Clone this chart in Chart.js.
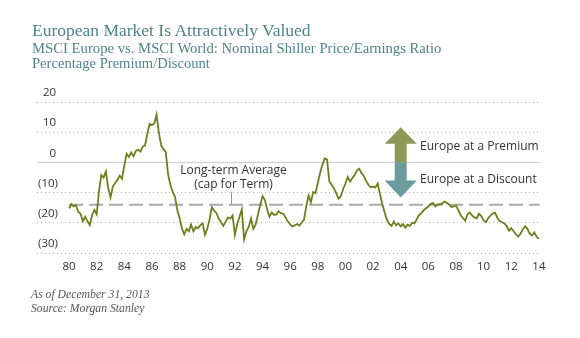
<!DOCTYPE html>
<html>
<head>
<meta charset="utf-8">
<script src="https://cdn.jsdelivr.net/npm/chart.js@4"></script>
<style>
  html, body { margin: 0; padding: 0; background: #fff; }
  #wrap { position: relative; width: 580px; height: 338px; overflow: hidden; }
  #chart { position: absolute; left: 0; top: 0; }
  .hd { position: absolute; left: 32px; white-space: nowrap; font-family: "Liberation Serif", serif; color: #4f8584; line-height: 1; }
  .ft { position: absolute; left: 31px; white-space: nowrap; font-family: "Liberation Serif", serif; font-style: italic; font-size: 11.7px; color: #555; line-height: 1; }
</style>
</head>
<body>
<div id="wrap">
  <canvas id="chart" width="580" height="338"></canvas>
  <div class="hd" style="top:22px;font-size:17.5px">European Market Is Attractively Valued</div>
  <div class="hd" style="top:41px;font-size:14.7px">MSCI Europe vs. MSCI World: Nominal Shiller Price/Earnings Ratio</div>
  <div class="hd" style="top:55.5px;font-size:14.6px">Percentage Premium/Discount</div>
  <div class="ft" style="top:289px">As of December 31, 2013</div>
  <div class="ft" style="top:303px">Source: Morgan Stanley</div>
</div>
<script>
// bi-monthly readings, Europe premium/discount vs world (%)
const startYear = 1980;
const stepYears = 1 / 6;
const premium = [
  -15.2, -13.8, -14.6, -14.2, -16.4, -17.0,   // 1980
  -19.5, -18.0, -19.5, -20.8, -17.5, -15.8,   // 1981
  -17.2, -9.5, -4.2, -5.0, -3.0, -8.5,        // 1982
  -11.6, -8.0, -6.8, -5.8, -4.4, -5.4,        // 1983
  -1.0, 2.9, 1.8, 3.3, 2.0, 3.8,              // 1984
  4.2, 3.6, 5.2, 5.6, 9.5, 12.8,              // 1985
  12.4, 12.8, 15.8, 9.8, 5.6, 4.4,            // 1986
  3.4, -4.0, -7.5, -9.8, -11.4, -15.8,        // 1987
  -18.5, -21.8, -23.8, -22.0, -22.8, -20.6,   // 1988
  -22.8, -21.4, -21.8, -20.8, -20.2, -24.0,   // 1989
  -22.0, -19.0, -14.9, -16.0, -16.8, -18.6,   // 1990
  -19.8, -21.0, -19.6, -18.2, -18.6, -17.6,   // 1991
  -24.0, -20.5, -18.0, -15.6, -25.5, -22.8,   // 1992
  -21.4, -18.6, -22.0, -20.5, -17.4, -14.0,   // 1993
  -11.2, -12.4, -15.5, -18.0, -16.6, -17.4,   // 1994
  -17.2, -16.2, -16.8, -17.0, -18.2, -19.6,   // 1995
  -20.5, -21.2, -20.8, -20.4, -20.9, -19.9,   // 1996
  -19.0, -14.5, -11.0, -13.2, -9.8, -10.2,    // 1997
  -6.8, -3.5, -0.8, 1.3, 1.0, -6.2,           // 1998
  -7.4, -8.6, -10.2, -12.0, -11.2, -8.8,      // 1999
  -7.0, -4.8, -6.4, -5.2, -4.2, -2.6,         // 2000
  -2.1, -3.6, -4.5, -6.2, -7.5, -8.2,         // 2001
  -8.0, -8.3, -7.0, -10.5, -13.8, -16.5,      // 2002
  -19.0, -20.4, -21.0, -19.6, -20.8, -20.2,   // 2003
  -21.2, -20.4, -21.6, -20.6, -21.0, -20.0,   // 2004
  -20.2, -18.8, -17.4, -16.8, -15.8, -15.2,   // 2005
  -14.6, -13.8, -13.4, -14.6, -14.0, -13.8,   // 2006
  -13.6, -13.0, -13.4, -13.9, -14.8, -14.6,   // 2007
  -14.3, -15.8, -17.4, -18.4, -19.3, -17.2,   // 2008
  -16.6, -17.6, -18.2, -18.5, -17.0, -17.8,   // 2009
  -19.2, -19.8, -18.4, -17.6, -16.9, -16.7,   // 2010
  -18.4, -19.5, -19.8, -20.2, -21.0, -22.6,   // 2011
  -21.8, -22.8, -23.8, -24.6, -23.6, -22.2,   // 2012
  -21.1, -22.0, -23.6, -24.2, -23.2, -24.6,   // 2013
  -25.3
];
const longTermAvg = -14;
const xTicks = [1980, 1982, 1984, 1986, 1988, 1990, 1992, 1994, 1996, 1998, 2000, 2002, 2004, 2006, 2008, 2010, 2012, 2014];
const yTicks = [20, 10, 0, -10, -20, -30];
const avgLabel = ['Long-term Average', '(cap for Term)'];
const arrowLabels = ['Europe at a Premium', 'Europe at a Discount'];

const lineData = premium.map((v, i) => ({ x: startYear + i * stepYears, y: v }));
const xMin = 1977.68, xMax = 2014.08;

const labelFont = '12px "Open Sans", sans-serif';

const annotations = {
  id: 'annotations',
  afterDatasetsDraw(chart) {
    const { ctx } = chart;
    const xs = chart.scales.x, ys = chart.scales.y;
    ctx.save();

    // premium / discount arrows
    const cx = xs.getPixelForValue(2004.0);
    const y0 = ys.getPixelForValue(0);
    const tipUp = ys.getPixelForValue(11.6), baseUp = ys.getPixelForValue(6.2);
    const tipDn = ys.getPixelForValue(-11.6), baseDn = ys.getPixelForValue(-6.0);
    const hw = 16, sw = 6;
    ctx.fillStyle = '#8c9a58';
    ctx.beginPath();
    ctx.moveTo(cx, tipUp);
    ctx.lineTo(cx + hw, baseUp);
    ctx.lineTo(cx + sw, baseUp);
    ctx.lineTo(cx + sw, y0);
    ctx.lineTo(cx - sw, y0);
    ctx.lineTo(cx - sw, baseUp);
    ctx.lineTo(cx - hw, baseUp);
    ctx.closePath();
    ctx.fill();
    ctx.fillStyle = '#6b9b9c';
    ctx.beginPath();
    ctx.moveTo(cx, tipDn);
    ctx.lineTo(cx + hw, baseDn);
    ctx.lineTo(cx + sw, baseDn);
    ctx.lineTo(cx + sw, y0);
    ctx.lineTo(cx - sw, y0);
    ctx.lineTo(cx - sw, baseDn);
    ctx.lineTo(cx - hw, baseDn);
    ctx.closePath();
    ctx.fill();

    ctx.font = labelFont;
    ctx.fillStyle = '#333';
    ctx.textBaseline = 'middle';
    ctx.textAlign = 'left';
    const tx = xs.getPixelForValue(2005.4);
    ctx.fillText(arrowLabels[0], tx, ys.getPixelForValue(5.4));
    ctx.fillText(arrowLabels[1], tx, ys.getPixelForValue(-5.6));

    // long-term average label
    ctx.textAlign = 'center';
    const lx = xs.getPixelForValue(1991.9);
    ctx.fillText(avgLabel[0], lx, ys.getPixelForValue(-2.6));
    ctx.fillText(avgLabel[1], lx, ys.getPixelForValue(-7.3));
    const kx = Math.round(xs.getPixelForValue(1991.7)) + 0.5;
    ctx.strokeStyle = '#999';
    ctx.lineWidth = 1;
    ctx.beginPath();
    ctx.moveTo(kx, ys.getPixelForValue(-9.7));
    ctx.lineTo(kx, ys.getPixelForValue(longTermAvg));
    ctx.stroke();
    ctx.restore();
  }
};

new Chart(document.getElementById('chart'), {
  type: 'line',
  data: {
    datasets: [
      {
        data: lineData,
        borderColor: '#6e7f1e',
        borderWidth: 1.8,
        pointRadius: 0,
        tension: 0
      },
      {
        data: [{ x: 1980, y: longTermAvg }, { x: 2014.05, y: longTermAvg }],
        borderColor: '#a9a9a9',
        borderWidth: 2,
        borderDash: [14, 6],
        pointRadius: 0
      },
      {
        data: [{ x: xMin, y: 0 }, { x: xMax, y: 0 }],
        borderColor: '#c9c9c9',
        borderWidth: 1,
        pointRadius: 0
      }
    ]
  },
  options: {
    responsive: false,
    animation: false,
    layout: { padding: { left: 37, right: 40, top: 102, bottom: 65 } },
    plugins: { legend: { display: false }, tooltip: { enabled: false } },
    scales: {
      x: {
        type: 'linear',
        min: xMin,
        max: xMax,
        afterBuildTicks: s => { s.ticks = xTicks.map(v => ({ value: v })); },
        afterFit: s => { s.height = 20; },
        grid: { display: false, drawTicks: false },
        border: { display: false },
        ticks: {
          padding: 7,
          maxRotation: 0,
          autoSkip: false,
          color: '#333',
          font: { family: 'Open Sans', size: 11.5 },
          callback: v => String(v % 100).padStart(2, '0')
        }
      },
      y: {
        min: -30,
        max: 20,
        afterBuildTicks: s => { s.ticks = yTicks.map(v => ({ value: v })); },
        afterFit: s => { s.width = 0; },
        grid: {
          drawTicks: false,
          color: c => (c.tick && c.tick.value === 0) ? 'rgba(0,0,0,0)' : '#b5b5b5',
          lineWidth: 1
        },
        border: { display: false, dash: [1, 3] },
        ticks: {
          mirror: true,
          padding: 1,
          labelOffset: -9,
          color: '#333',
          font: { family: 'Open Sans', size: 11.5 },
          callback: v => v < 0 ? '(' + (-v) + ')' : (v === 0 ? '\u2007\u2008\u2009' : '\u2008\u2009') + v
        }
      }
    }
  },
  plugins: [annotations]
});
</script>
</body>
</html>
